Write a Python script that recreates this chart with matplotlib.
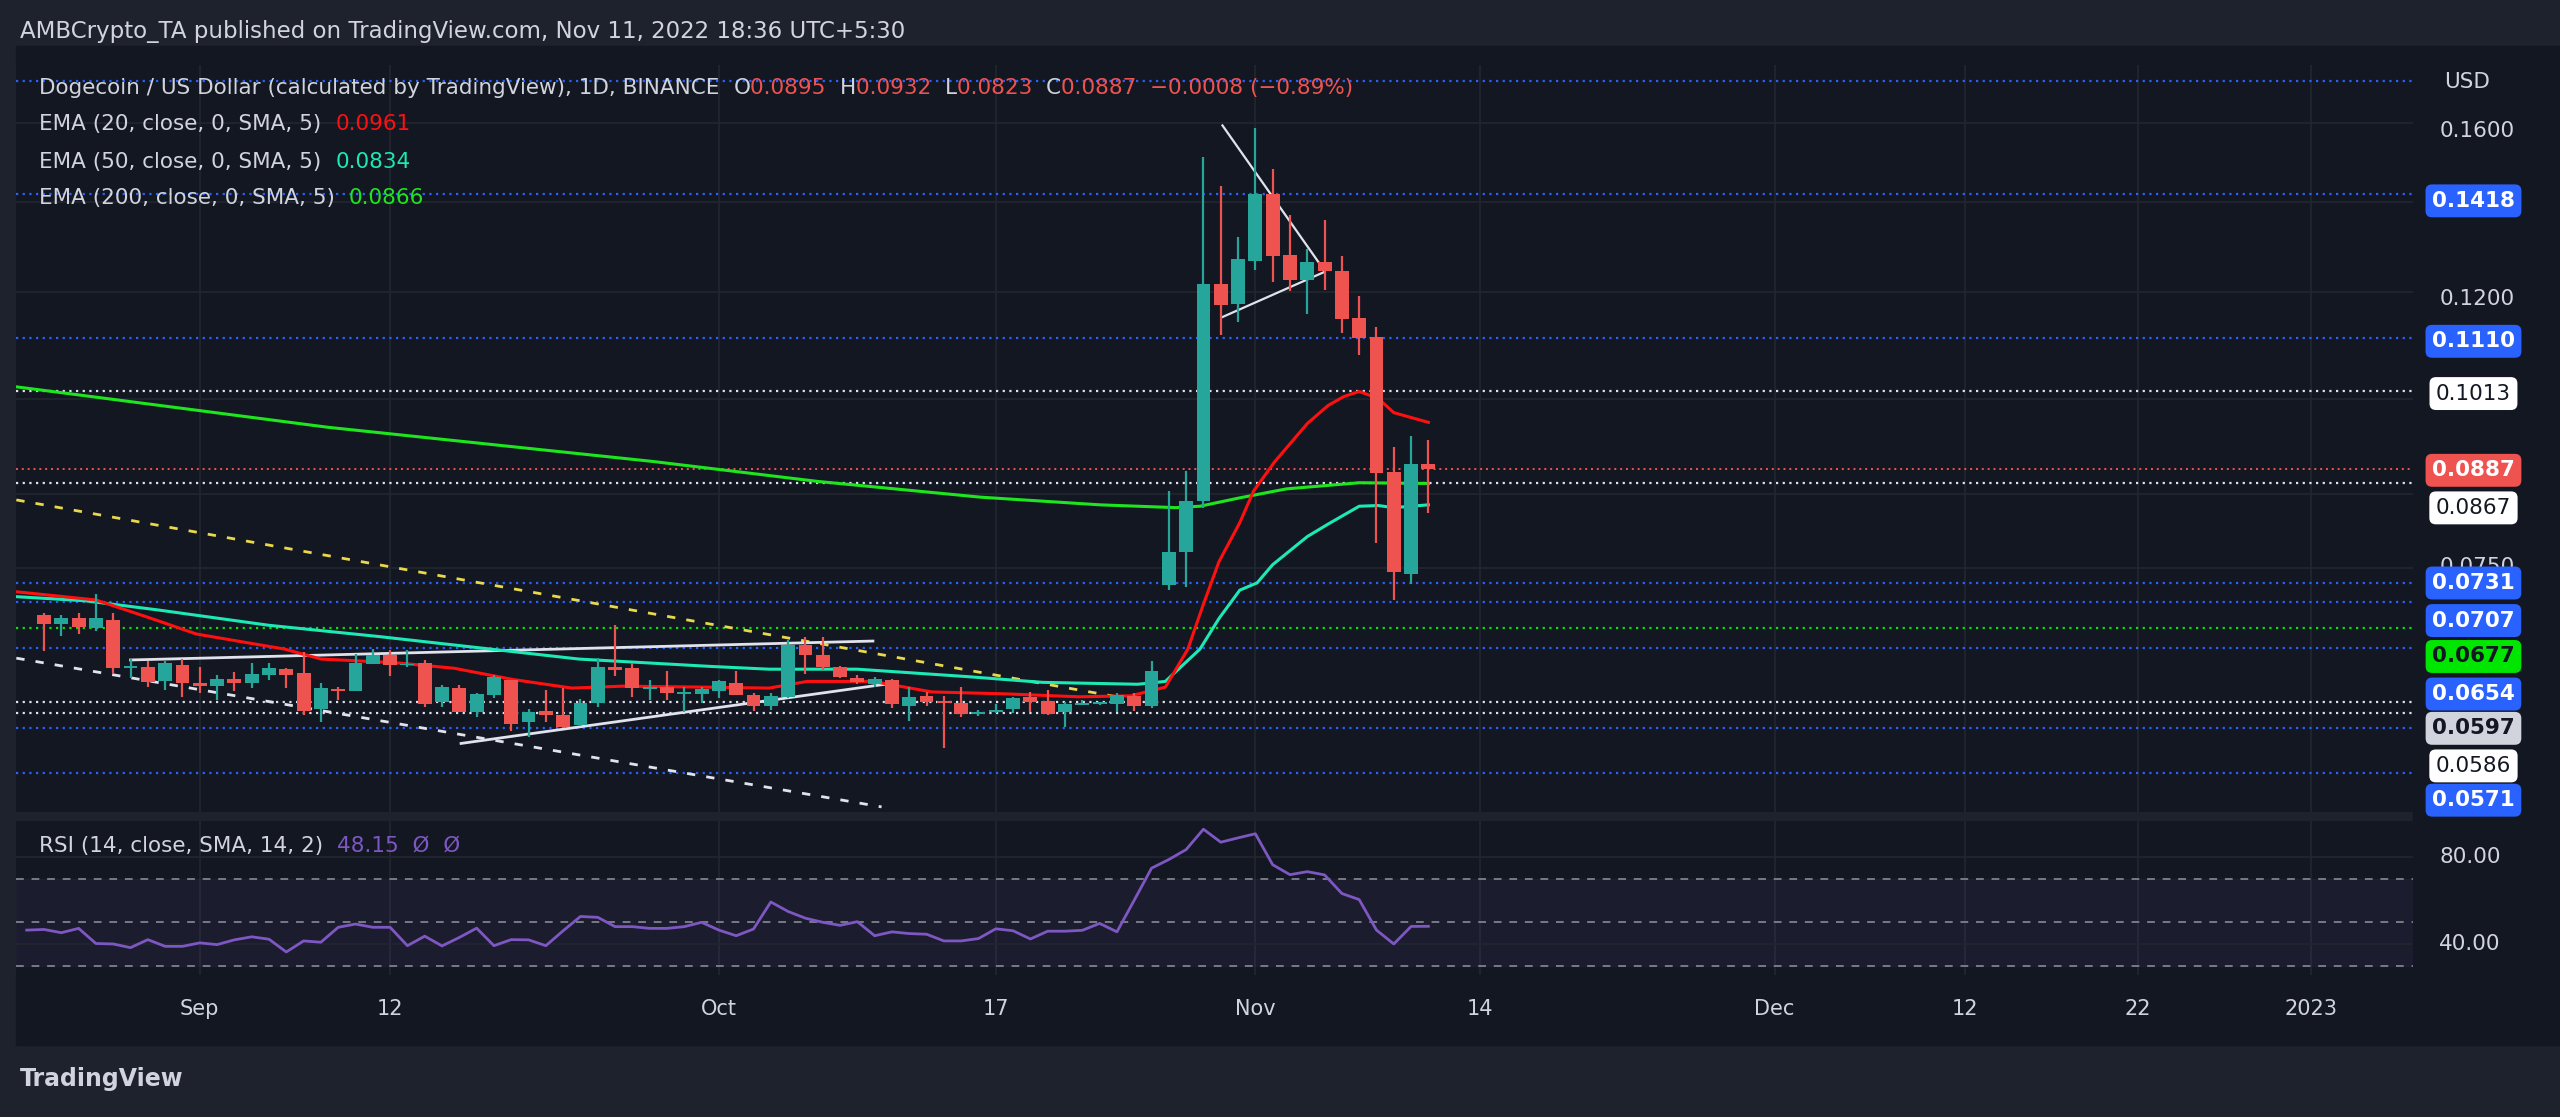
import matplotlib
matplotlib.use("Agg")
import matplotlib.pyplot as plt
from matplotlib.ticker import FixedLocator, NullLocator

BG = "#131722"
OUTER = "#1e222d"
TXT = "#d1d4dc"
UP = "#26a69a"
DOWN = "#ef5350"
BLUE = "#2962ff"

# daily candles from Aug 23 2022 (index 0) to Nov 11 2022 (index 80)
opens = [.0692, .0681, .0688, .0677, .0686, .0632, .0633, .0618, .0635, .0616,
         .0613, .0621, .0616, .0625, .0631, .0627, .0590, .0610, .0608, .0637,
         .0646, .0635, .0638, .0597, .0611, .0587, .0604, .0619, .0577, .0588,
         .0584, .0574, .0596, .0633, .0632, .0610, .0612, .0605, .0605, .0608,
         .0616, .0604, .0593, .0602, .0658, .0646, .0633, .0622, .0615, .0619,
         .0593, .0603, .0597, .0596, .0585, .0587, .0590, .0602, .0598, .0587,
         .0594, .0595, .0595, .0603, .0593, .0728, .0770, .0840, .1217, .1176,
         .1266, .1418, .1279, .1225, .1262, .1243, .1148, .1111, .0883, .0742,
         .0895]
highs = [.0694, .0692, .0694, .0717, .0694, .0642, .0640, .0640, .0642, .0633,
         .0625, .0628, .0638, .0638, .0632, .0650, .0616, .0612, .0648, .0653,
         .0652, .0652, .0641, .0614, .0614, .0606, .0625, .0620, .0590, .0609,
         .0611, .0600, .0643, .0680, .0638, .0619, .0629, .0612, .0612, .0620,
         .0629, .0606, .0606, .0663, .0667, .0667, .0634, .0625, .0623, .0621,
         .0612, .0607, .0603, .0612, .0589, .0595, .0602, .0607, .0609, .0597,
         .0599, .0596, .0606, .0606, .0640, .0855, .0884, .1510, .1437, .1317,
         .1587, .1479, .1369, .1292, .1357, .1276, .1192, .1130, .0921, .0939,
         .0932]
lows = [.0651, .0668, .0670, .0674, .0627, .0622, .0612, .0609, .0602, .0606,
        .0599, .0608, .0611, .0620, .0611, .0584, .0577, .0599, .0608, .0637,
        .0624, .0633, .0592, .0592, .0587, .0582, .0601, .0568, .0562, .0577,
        .0571, .0573, .0592, .0624, .0602, .0599, .0599, .0587, .0596, .0601,
        .0604, .0588, .0589, .0601, .0626, .0630, .0622, .0615, .0612, .0591,
        .0578, .0593, .0552, .0582, .0583, .0586, .0586, .0587, .0584, .0572,
        .0594, .0594, .0587, .0588, .0591, .0722, .0726, .0831, .1116, .1141,
        .1246, .1221, .1203, .1156, .1205, .1119, .1078, .0783, .0710, .0730,
        .0823]
closes = [.0681, .0689, .0678, .0689, .0632, .0634, .0617, .0638, .0616, .0613,
          .0621, .0616, .0626, .0632, .0625, .0588, .0611, .0608, .0638, .0646,
          .0635, .0636, .0595, .0612, .0587, .0605, .0623, .0575, .0587, .0584,
          .0572, .0596, .0633, .0630, .0611, .0612, .0606, .0606, .0610, .0618,
          .0604, .0593, .0603, .0658, .0646, .0633, .0623, .0617, .0621, .0595,
          .0602, .0597, .0596, .0585, .0587, .0589, .0601, .0597, .0585, .0595,
          .0596, .0596, .0604, .0593, .0629, .0770, .0840, .1217, .1174, .1269,
          .1418, .1277, .1225, .1262, .1243, .1147, .1110, .0882, .0745, .0895,
          .0887]

# moving averages, read at points along each line (x = day index)
ema20_x = [-1.6, 3, 6.2, 8.8, 13.9, 16, 20.3, 23.7, 27.1, 30.5, 33.4, 38.1, 41.9,
           44.1, 47.9, 51.3, 55.6, 59.8, 62.8, 64.8, 66.1, 67, 67.9, 69.1, 69.9,
           71.1, 73, 74.2, 75.1, 76, 77.1, 78, 80]
ema20_y = [.0720, .0710, .0688, .0670, .0653, .0642, .0638, .0632, .0620, .0611,
           .0613, .0612, .0611, .0618, .0618, .0607, .0605, .0602, .0603, .0612,
           .0653, .0705, .0758, .0810, .0855, .0898, .0959, .0989, .1004, .1013,
           .1001, .0977, .0961]
ema50_x = [-1.6, 2.4, 6.6, 13, 19.4, 25.8, 30.9, 38.5, 41.9, 47, 53.4, 57.7,
           63.2, 64.8, 66.8, 67.9, 69.1, 70.1, 71, 73, 74.2, 76, 77.1, 78, 80]
ema50_y = [.0714, .0709, .0698, .0680, .0667, .0653, .0642, .0634, .0631, .0631,
           .0623, .0617, .0615, .0618, .0653, .0688, .0722, .0731, .0754, .0791,
           .0808, .0833, .0834, .0831, .0835]
ema200_x = [-1.6, 16.4, 35.2, 44.7, 54.1, 61, 65.4, 66.8, 69.1, 71.8, 76, 80]
ema200_y = [.1021, .0953, .0899, .0869, .0846, .0835, .0831, .0833, .0845, .0858,
            .0867, .0866]

rsi_x = list(range(-1, 81))
rsi = [46.4, 46.7, 45.2, 47.2, 40.2, 40.0, 38.3, 42.0, 38.9, 38.9, 40.5, 39.7,
       41.9, 43.3, 42.2, 36.3, 41.4, 40.8, 47.7, 49.2, 47.7, 47.7, 39.2, 43.6,
       39.1, 43.0, 47.3, 39.2, 42.0, 41.9, 39.2, 46.1, 52.7, 52.3, 48.0, 48.0,
       47.2, 47.2, 48.0, 50.0, 46.4, 43.8, 46.9, 59.4, 55.0, 51.9, 50.0, 48.6,
       50.3, 43.8, 45.6, 44.8, 44.5, 41.4, 41.4, 42.5, 47.0, 46.1, 42.3, 45.9,
       45.9, 46.3, 49.5, 45.6, 60.2, 75.0, 79.0, 83.6, 93.0, 87.0, 89.0, 90.9,
       76.6, 72.0, 73.4, 71.9, 63.3, 60.5, 46.4, 40.0, 48.1, 48.15]

blue_levels = [0.1718, 0.1418, 0.1110, 0.0731, 0.0707, 0.0654, 0.0571, 0.0529]
white_levels = [0.1013, 0.0867, 0.0597, 0.0586]
green_level = 0.0677
last_price = 0.0887

tick_pos = [9, 20, 39, 55, 70, 83, 100, 111, 121, 131]
tick_lab = ["Sep", "12", "Oct", "17", "Nov", "14", "Dec", "12", "22", "2023"]

W, H = 1568.0, 684.0  # layout measured in reference pixels


def fx(x):
    return x / W


def fy(y):
    return 1 - y / H


fig = plt.figure(figsize=(25.6, 11.17), dpi=100, facecolor=OUTER)
ax = fig.add_axes([fx(10), fy(497), fx(1478 - 10), (497 - 40) / H], facecolor=BG)
ax2 = fig.add_axes([fx(10), fy(597), fx(1478 - 10), (597 - 503) / H], facecolor=BG,
                   sharex=ax)
# right scale strip and bottom date strip
fig.patches.append(plt.Rectangle((fx(1478), fy(597)), 1 - fx(1478), (597 - 28) / H,
                                 transform=fig.transFigure, color=BG, zorder=-1))
fig.patches.append(plt.Rectangle((fx(10), fy(640)), fx(1558), (640 - 597) / H,
                                 transform=fig.transFigure, color=BG, zorder=-1))
fig.patches.append(plt.Rectangle((fx(10), fy(40)), fx(1468), 12 / H,
                                 transform=fig.transFigure, color=BG, zorder=-1))

ax.set_yscale("log")
ax.set_ylim(0.0495, 0.1766)
ax.set_xlim(-1.6, 136.9)

for a in (ax, ax2):
    for s in a.spines.values():
        s.set_visible(False)
    a.tick_params(left=False, right=False, bottom=False, labelleft=False,
                  labelbottom=False, labelright=False)
    for t in tick_pos:
        a.axvline(t, color="#22262f", lw=1.2, zorder=0)

ax.yaxis.set_major_locator(FixedLocator([0.075, 0.085, 0.10, 0.12, 0.14, 0.16]))
ax.yaxis.set_minor_locator(NullLocator())
ax.grid(axis="y", color="#22262f", lw=1.2)
ax.set_axisbelow(True)

# levels
for lv in blue_levels:
    ax.axhline(lv, color=BLUE, ls=(0, (1, 2)), lw=1.6, zorder=1)
for lv in white_levels:
    ax.axhline(lv, color="#e0e3eb", ls=(0, (1, 2)), lw=1.6, zorder=1)
ax.axhline(green_level, color="#00e600", ls=(0, (1, 2)), lw=1.6, zorder=1)
ax.axhline(last_price, color=DOWN, ls=(0, (1, 2)), lw=1.4, zorder=1)

# drawings
ax.plot([-1.6, 48.4], [0.0643, 0.0499], color="#e0e3eb", ls=(0, (3, 4)), lw=2)
ax.plot([-1.6, 62], [0.0842, 0.0602], color="#e8d84a", ls=(0, (3, 4)), lw=2)
ax.plot([5, 47.9], [0.0641, 0.0662], color="#e0e3eb", lw=2)
ax.plot([24.1, 48.6], [0.0556, 0.0615], color="#e0e3eb", lw=2)
ax.plot([68.1, 73.7], [0.1594, 0.1260], color="#e0e3eb", lw=1.6)
ax.plot([68.1, 74], [0.1150, 0.1242], color="#e0e3eb", lw=1.6)

# EMAs
ax.plot(ema200_x, ema200_y, color="#1ee61e", lw=2.2, zorder=3)
ax.plot(ema50_x, ema50_y, color="#1de9b6", lw=2.2, zorder=3)
ax.plot(ema20_x, ema20_y, color="#ff1010", lw=2.2, zorder=3)

# candles
for i, (o, h, l, c) in enumerate(zip(opens, highs, lows, closes)):
    col = UP if c >= o else DOWN
    ax.vlines(i, l, h, color=col, lw=1.6, zorder=4)
    lo, hi = min(o, c), max(o, c)
    if hi / lo < 1.003:
        hi = lo * 1.003
    ax.bar(i, hi - lo, bottom=lo, width=0.8, color=col, zorder=5)

# RSI
ax2.set_ylim(25.7, 96.6)
ax2.axhspan(30, 70, color="#7e57c2", alpha=0.08)
for lv in (70, 50, 30):
    ax2.axhline(lv, color="#787b86", ls=(0, (4, 4)), lw=1.4)
ax2.axhline(80, color="#22262f", lw=1.2)
ax2.axhline(40, color="#22262f", lw=1.2)
ax2.plot(rsi_x, rsi, color="#7e57c2", lw=2)

# x labels
for t, lab in zip(tick_pos, tick_lab):
    xd = ax.transData.transform((t, 0))[0]
    fig.text(xd / fig.bbox.width, fy(618), lab, color=TXT, fontsize=15,
             ha="center", va="center")

# header and legends
fig.text(fx(12), fy(19), "AMBCrypto_TA published on TradingView.com, Nov 11, 2022 18:36 UTC+5:30",
         color=TXT, fontsize=16.5, va="center")
y0 = fy(54)
t = fig.text(fx(24), y0, "Dogecoin / US Dollar (calculated by TradingView), 1D, BINANCE  ",
             color=TXT, fontsize=15.5, va="center")
fig.canvas.draw()
xcur = t.get_window_extent().x1 / fig.bbox.width
for lab, val in [("O", "0.0895"), ("H", "0.0932"), ("L", "0.0823"), ("C", "0.0887"),
                 ("", "−0.0008 (−0.89%)")]:
    if lab:
        tt = fig.text(xcur, y0, lab, color=TXT, fontsize=15.5, va="center")
        fig.canvas.draw()
        xcur = tt.get_window_extent().x1 / fig.bbox.width
    tt = fig.text(xcur, y0, val + "  ", color=DOWN, fontsize=15.5, va="center")
    fig.canvas.draw()
    xcur = tt.get_window_extent().x1 / fig.bbox.width

for yy, name, val, col in [(76, "EMA (20, close, 0, SMA, 5)  ", "0.0961", "#ff1010"),
                           (99, "EMA (50, close, 0, SMA, 5)  ", "0.0834", "#1de9b6"),
                           (121, "EMA (200, close, 0, SMA, 5)  ", "0.0866", "#1ee61e")]:
    tt = fig.text(fx(24), fy(yy), name, color=TXT, fontsize=15.5, va="center")
    fig.canvas.draw()
    fig.text(tt.get_window_extent().x1 / fig.bbox.width, fy(yy), val, color=col,
             fontsize=15.5, va="center")

tt = fig.text(fx(24), fy(518), "RSI (14, close, SMA, 14, 2)  ", color=TXT, fontsize=15.5,
              va="center")
fig.canvas.draw()
fig.text(tt.get_window_extent().x1 / fig.bbox.width, fy(518), "48.15  Ø  Ø",
         color="#7e57c2", fontsize=15.5, va="center")

# right price scale
fig.text(fx(1497), fy(50), "USD", color=TXT, fontsize=15.5, va="center")
for yy, lab in [(80, "0.1600"), (183, "0.1200")]:
    fig.text(fx(1494), fy(yy), lab, color=TXT, fontsize=15.5, va="center")
# partly hidden behind the level box, as on the source
fig.text(fx(1494), fy(347), "0.0750", color=TXT, fontsize=15.5, va="center", zorder=1)
fig.text(fx(1494), fy(525), "80.00", color=TXT, fontsize=15.5, va="center")
fig.text(fx(1494), fy(578), "40.00", color=TXT, fontsize=15.5, va="center")

boxes = [(123, "0.1418", BLUE, "white"), (209, "0.1110", BLUE, "white"),
         (241, "0.1013", "white", "#131722"), (288, "0.0887", DOWN, "white"),
         (311, "0.0867", "white", "#131722"), (357, "0.0731", BLUE, "white"),
         (380, "0.0707", BLUE, "white"), (402, "0.0677", "#00e600", "#131722"),
         (425, "0.0654", BLUE, "white"), (446, "0.0597", "#d1d4dc", "#131722"),
         (469, "0.0586", "white", "#131722"), (490, "0.0571", BLUE, "white")]
for yy, lab, bg, fg in boxes:
    fig.text(fx(1515), fy(yy), lab, color=fg, fontsize=15.5, va="center", ha="center",
             fontweight="bold" if bg != "white" else "normal", zorder=5,
             bbox=dict(boxstyle="round,pad=0.3", fc=bg, ec="none"))

fig.text(fx(12), fy(661), "TradingView", color=TXT, fontsize=17, fontweight="bold",
         va="center")

fig.savefig("out.png", dpi=100, facecolor=OUTER)
